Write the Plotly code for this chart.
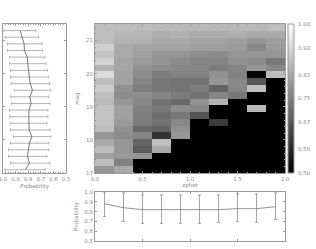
import plotly.graph_objects as go

zphot_edges = [0.0, 2.0]
mag_edges = [17.0, 21.5]
# probability per cell, rows from the top (bright mag) to the bottom
grid_top_down = [
 [.873,.869,.869,.863,.863,.863,.863,.863,.863,.873],
 [.873,.857,.857,.843,.849,.837,.837,.843,.833,.833],
 [.873,.849,.849,.829,.829,.818,.818,.810,.794,.810],
 [.908,.833,.824,.818,.818,.810,.810,.804,.765,.804],
 [.882,.833,.814,.790,.790,.775,.771,.794,.794,.794],
 [.912,.824,.804,.790,.775,.755,.759,.784,.775,.735],
 [.853,.824,.784,.775,.765,.765,.745,.759,.794,.765],
 [.931,.818,.775,.745,.755,.755,.784,.755,.510,.873],
 [.873,.818,.759,.735,.725,.725,.794,.765,.667,.500],
 [.902,.784,.745,.735,.725,.745,.696,.765,.873,.500],
 [.873,.775,.775,.765,.745,.725,.765,.735,.500,.500],
 [.863,.794,.765,.725,.706,.784,.853,.500,.500,.500],
 [.882,.814,.755,.735,.775,.765,.500,.500,.863,.500],
 [.882,.814,.745,.716,.735,.667,.500,.500,.500,.500],
 [.882,.804,.745,.725,.765,.500,.618,.500,.500,.500],
 [.873,.784,.706,.696,.784,.500,.500,.500,.500,.500],
 [.794,.775,.765,.598,.794,.500,.500,.500,.500,.500],
 [.833,.794,.696,.873,.500,.500,.500,.500,.500,.500],
 [.873,.794,.676,.833,.500,.500,.500,.500,.500,.500],
 [.814,.804,.794,.500,.500,.500,.500,.500,.500,.500],
 [.873,.755,.500,.500,.500,.500,.500,.500,.500,.500],
 [.794,.833,.500,.500,.500,.500,.500,.500,.500,.500],
]
# left panel: probability against magnitude, top to bottom
mag_pts = [21.3,21.1,20.9,20.7,20.5,20.3,20.1,19.9,19.7,19.5,19.3,19.1,18.9,18.7,18.5,18.3,18.1,17.9,17.7,17.5,17.3,17.1]
mag_prob = [.864,.848,.832,.830,.808,.803,.795,.790,.785,.766,.787,.777,.795,.795,.795,.793,.771,.790,.798,.806,.790,.822]
mag_hi = [.992,.984,.965,.965,.949,.949,.941,.941,.934,.910,.939,.931,.949,.947,.941,.941,.918,.941,.957,.957,.941,.984]
mag_lo = [.739,.718,.691,.686,.668,.660,.646,.636,.630,.620,.636,.628,.644,.644,.652,.628,.620,.636,.636,.652,.628,.665]
# bottom panel: probability against zphot
z_pts = [.1,.3,.5,.7,.9,1.1,1.3,1.5,1.7,1.9]
z_prob = [.88,.84,.82,.82,.82,.82,.82,.83,.83,.85]
z_hi = [1.0,.99,.97,.97,.97,.97,.97,.98,.98,.99]
z_lo = [.75,.70,.68,.68,.68,.68,.69,.70,.69,.72]
cbar_ticks = [.50,.58,.67,.75,.83,.92,1.00]
cbar_text = ["0.50","0.58","0.67","0.75","0.83","0.92","1.00"]

W, H = 316, 249
AX = "#9a9a9a"
TXT = "#8a8a8a"
FONT = dict(family="DejaVu Sans", size=5.5, color=TXT)

def dx(a, b): return [a / W, b / W]
def dy(top, bot): return [1 - bot / H, 1 - top / H]

fig = go.Figure()
rows = grid_top_down[::-1]
cell_h = (mag_edges[1] - mag_edges[0]) / len(rows)
cell_w = (zphot_edges[1] - zphot_edges[0]) / len(rows[0])
fig.add_trace(go.Heatmap(
    z=rows, x0=zphot_edges[0] + cell_w / 2, dx=cell_w,
    y0=mag_edges[0] + cell_h / 2, dy=cell_h,
    colorscale=[[0, "#000000"], [1, "#ffffff"]], zmin=.5, zmax=1,
    xaxis="x", yaxis="y",
    colorbar=dict(
        thickness=6, thicknessmode="pixels", len=149, lenmode="pixels",
        x=288 / W, xanchor="left", xpad=0, y=1 - 173 / H, yanchor="bottom", ypad=0,
        tickvals=cbar_ticks, ticktext=cbar_text, ticks="outside", ticklen=3, tickcolor="rgba(0,0,0,0)",
        tickfont=FONT, outlinecolor=AX, outlinewidth=1),
))
fig.add_trace(go.Scatter(
    x=mag_prob, y=mag_pts, mode="lines", xaxis="x2", yaxis="y2",
    line=dict(color="#555555", width=0.8),
    error_x=dict(type="data", symmetric=False,
                 array=[h - p for h, p in zip(mag_hi, mag_prob)],
                 arrayminus=[p - l for p, l in zip(mag_prob, mag_lo)],
                 color="#a0a0a0", thickness=0.8, width=1.5),
))
fig.add_trace(go.Scatter(
    x=z_pts, y=z_prob, mode="lines", xaxis="x3", yaxis="y3",
    line=dict(color="#777777", width=0.8),
    error_y=dict(type="data", symmetric=False,
                 array=[h - p for h, p in zip(z_hi, z_prob)],
                 arrayminus=[p - l for p, l in zip(z_prob, z_lo)],
                 color="#8c8c8c", thickness=0.8, width=1.5),
))

common = dict(showgrid=False, zeroline=False, showline=True, linecolor=AX, linewidth=1,
              mirror="allticks", ticks="inside", tickcolor=AX, ticklen=2, tickwidth=0.7,
              tickfont=FONT, automargin=False, ticklabeloverflow="allow")
fig.update_layout(
    width=W, height=H, margin=dict(l=0, r=0, t=0, b=0),
    paper_bgcolor="white", plot_bgcolor="white", showlegend=False, font=FONT,
    xaxis=dict(common, domain=dx(95, 285), range=zphot_edges, dtick=.5, tickformat=".1f",
               minor=dict(dtick=.1, ticks="inside", ticklen=1, tickcolor=AX),
               title=dict(text="zphot", font=FONT, standoff=1)),
    yaxis=dict(common, domain=dy(24, 173), range=mag_edges, dtick=1,
               minor=dict(dtick=.2, ticks="inside", ticklen=1, tickcolor=AX),
               title=dict(text="mag", font=FONT, standoff=5)),
    xaxis2=dict(common, anchor="y2", domain=dx(3, 66), range=[1.0, .5], dtick=.1, tickformat=".1f",
                minor=dict(dtick=.02, ticks="inside", ticklen=1, tickcolor=AX),
                title=dict(text="Probability", font=FONT, standoff=3)),
    yaxis2=dict(common, anchor="x2", domain=dy(24, 173), range=mag_edges, dtick=1, showticklabels=False),
    xaxis3=dict(common, anchor="y3", domain=dx(95, 285), range=zphot_edges, dtick=.5, showticklabels=False),
    yaxis3=dict(common, anchor="x3", domain=dy(192, 241), range=[.5, 1.0], dtick=.1, tickformat=".1f",
                title=dict(text="Probability", font=FONT, standoff=5)),
)
fig.write_html("out.html", config=dict(displayModeBar=False),
               post_script="document.body.style.margin='0';document.documentElement.style.overflow='hidden';document.querySelectorAll('.main-svg').forEach(function(s){s.style.opacity='0.999';});")
